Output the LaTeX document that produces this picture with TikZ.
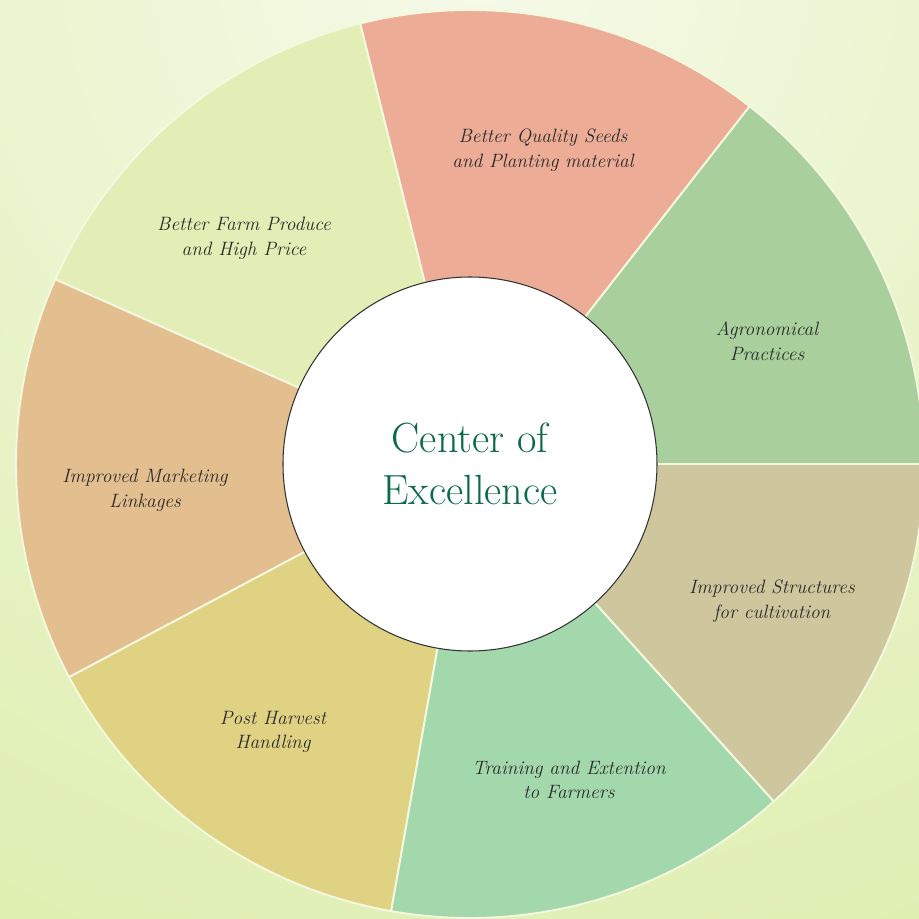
\documentclass[tikz,border=0pt]{standalone}
\usepackage{xcolor}
\definecolor{bgpale}{HTML}{F5FAE8}
\definecolor{bggreen}{HTML}{D8EBA0}
\definecolor{slicerim}{HTML}{F4F8DF}
\definecolor{seedsfill}{HTML}{ECAC96}
\definecolor{agrofill}{HTML}{A9CF9D}
\definecolor{structfill}{HTML}{CEC69D}
\definecolor{trainfill}{HTML}{A3D7AC}
\definecolor{harvestfill}{HTML}{E0D283}
\definecolor{marketfill}{HTML}{E3BE8F}
\definecolor{producefill}{HTML}{E2EEB5}
\definecolor{labeltext}{HTML}{2A2A2A}
\definecolor{hubtext}{HTML}{0B6B45}
\definecolor{hubrim}{HTML}{333333}
\begin{document}
\begin{tikzpicture}[
        slice/.style={draw=slicerim, line width=1.1pt, line join=round},
        lbl/.style={text=labeltext, font=\fontsize{11}{14}\selectfont\itshape, align=center},
        hub/.style={circle, draw=hubrim, line width=0.6pt, fill=white, minimum size=7.48cm, inner sep=0pt,
            text=hubtext, font=\fontsize{24}{30}\selectfont, align=center}]
        \useasboundingbox (-9.40,-9.10) rectangle (8.98,9.28);
        \begin{scope}
            \clip (-9.40,-9.10) rectangle (8.98,9.28);
            \shade[inner color=bgpale, outer color=bggreen] (0.2,10.1) circle (28);
        \end{scope}
        % slices, counter-clockwise from the right
        \filldraw[slice, fill=agrofill] (0,0) -- (0:9.08) arc[start angle=0, end angle=52, radius=9.08] -- cycle;
        \filldraw[slice, fill=seedsfill] (0,0) -- (52:9.08) arc[start angle=52, end angle=104, radius=9.08] -- cycle;
        \filldraw[slice, fill=producefill] (0,0) -- (104:9.08) arc[start angle=104, end angle=156, radius=9.08] -- cycle;
        \filldraw[slice, fill=marketfill] (0,0) -- (156:9.08) arc[start angle=156, end angle=208, radius=9.08] -- cycle;
        \filldraw[slice, fill=harvestfill] (0,0) -- (208:9.08) arc[start angle=208, end angle=260, radius=9.08] -- cycle;
        \filldraw[slice, fill=trainfill] (0,0) -- (260:9.08) arc[start angle=260, end angle=312, radius=9.08] -- cycle;
        \filldraw[slice, fill=structfill] (0,0) -- (312:9.08) arc[start angle=312, end angle=360, radius=9.08] -- cycle;
        \node[hub] (hub) at (0,0) {Center of\\Excellence};
        \node[lbl] (seeds) at (1.46,6.28) {Better Quality Seeds\\and Planting material};
        \node[lbl] (agro) at (5.94,2.46) {Agronomical\\Practices};
        \node[lbl] (struct) at (6.04,-2.74) {Improved Structures\\for cultivation};
        \node[lbl] (train) at (1.98,-6.32) {Training and Extention\\to Farmers};
        \node[lbl] (harvest) at (-3.94,-5.36) {Post Harvest\\Handling};
        \node[lbl] (market) at (-6.50,-0.52) {Improved Marketing\\Linkages};
        \node[lbl] (produce) at (-4.52,4.52) {Better Farm Produce\\and High Price};
\end{tikzpicture}
\end{document}
